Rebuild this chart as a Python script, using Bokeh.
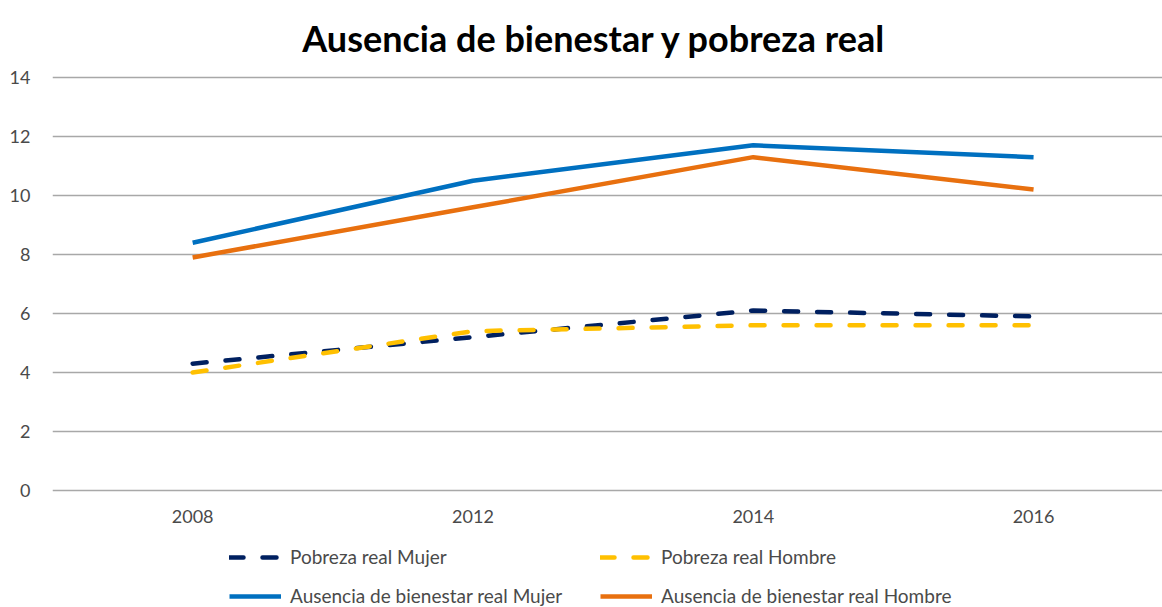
from bokeh.plotting import figure
from bokeh.models import FixedTicker, Legend, LegendItem, ColumnDataSource, Label
from bokeh.embed import file_html
from bokeh.resources import INLINE

years = ["2008", "2012", "2014", "2016"]
pobreza_mujer = [4.3, 5.2, 6.1, 5.9]
pobreza_hombre = [4.0, 5.4, 5.6, 5.6]
ausencia_mujer = [8.4, 10.5, 11.7, 11.3]
ausencia_hombre = [7.9, 9.6, 11.3, 10.2]
y_ticks = [0, 2, 4, 6, 8, 10, 12, 14]
title_text = "Ausencia de bienestar y pobreza real"

xpos = list(range(len(years)))
src = ColumnDataSource(dict(x=xpos, pm=pobreza_mujer, ph=pobreza_hombre,
                            am=ausencia_mujer, ah=ausencia_hombre))

p = figure(width=1162, height=607, output_backend="svg", toolbar_location=None,
           title=None,
           x_range=(-0.5, 3.46), y_range=(-3.966, 16.61),
           min_border_left=52, min_border_right=0, min_border_top=0, min_border_bottom=0)
p.outline_line_color = None
p.background_fill_color = "white"
p.border_fill_color = "white"

p.add_layout(Label(x=542, y=570, x_units="screen", y_units="screen", text=title_text,
                   text_align="center", text_baseline="alphabetic",
                   text_font="Lato", text_font_size="36px", text_font_style="bold",
                   text_color="black"))

p.xgrid.grid_line_color = None
p.ygrid.grid_line_color = "#a8a8a8"
p.ygrid.grid_line_width = 1.4
p.yaxis.ticker = FixedTicker(ticks=y_ticks)
p.xaxis.ticker = FixedTicker(ticks=xpos)
p.xaxis.major_label_overrides = {i: y for i, y in enumerate(years)}
p.xaxis.fixed_location = -0.2

for ax in (p.xaxis[0], p.yaxis[0]):
    ax.axis_line_color = None
    ax.major_tick_line_color = None
    ax.minor_tick_line_color = None
    ax.major_label_text_font = "Lato"
    ax.major_label_text_font_size = "18px"
    ax.major_label_text_color = "#4a4a4a"
p.yaxis.major_label_standoff = 16
p.xaxis.major_label_standoff = 8

r_pm = p.line("x", "pm", source=src, line_color="#002060", line_width=4.5,
              line_dash="14 19", line_cap="round")
r_ph = p.line("x", "ph", source=src, line_color="#ffc000", line_width=4.5,
              line_dash="14 19", line_cap="round")
r_am = p.line("x", "am", source=src, line_color="#0070c0", line_width=4.5, line_join="round")
r_ah = p.line("x", "ah", source=src, line_color="#e8700f", line_width=4.5, line_join="round")

def make_legend(items, loc):
    lg = Legend(items=items, location=loc, orientation="vertical",
                background_fill_alpha=0, border_line_color=None,
                padding=0, margin=0, spacing=16,
                glyph_width=52, glyph_height=20, label_height=20, label_standoff=9,
                label_text_font="Lato", label_text_font_size="19px",
                label_text_color="#4a4a4a")
    p.add_layout(lg)
    return lg

make_legend([LegendItem(label="Pobreza real Mujer", renderers=[r_pm]),
             LegendItem(label="Ausencia de bienestar real Mujer", renderers=[r_am])],
            (177, 0))
make_legend([LegendItem(label="Pobreza real Hombre", renderers=[r_ph]),
             LegendItem(label="Ausencia de bienestar real Hombre", renderers=[r_ah])],
            (548, 0))

open("out.html", "w").write(file_html(p, INLINE))
